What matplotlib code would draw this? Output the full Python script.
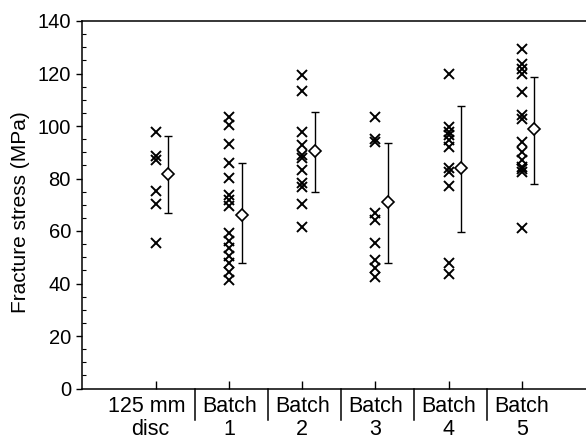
import matplotlib
matplotlib.use("Agg")
import matplotlib.pyplot as plt
from matplotlib.ticker import MultipleLocator
import matplotlib.transforms as mtransforms

plt.rcParams['font.family'] = ['Liberation Sans', 'DejaVu Sans']

# ---- data ----
label_top = ["125 mm", "Batch", "Batch", "Batch", "Batch", "Batch"]
label_bottom = ["disc", "1", "2", "3", "4", "5"]

disc = [97.6, 88.5, 87.0, 75.2, 70.3, 55.3]
batch1 = [103.3, 100.3, 93.0, 85.8, 80.3, 73.7, 71.8, 69.5,
          59.1, 56.3, 53.4, 50.5, 47.7, 44.5, 41.3]
batch2 = [119.4, 113.4, 97.8, 92.7, 88.9, 87.7, 83.2, 78.1, 76.8, 70.3, 61.6]
batch3 = [103.5, 95.0, 94.0, 66.7, 64.2, 55.3, 48.9, 45.8, 42.6]
batch4 = [120.0, 99.7, 97.8, 96.5, 94.6, 92.1, 83.9, 82.6, 77.1, 48.0, 43.5]
batch5 = [129.5, 123.8, 121.9, 120.0, 113.0, 104.2, 102.5, 94.0, 90.2,
          87.0, 84.5, 83.5, 82.6, 61.0]
groups = [disc, batch1, batch2, batch3, batch4, batch5]

means = [81.7, 66.1, 90.6, 71.1, 83.9, 98.7]
err_top = [96.3, 85.8, 105.2, 93.4, 107.6, 118.7]
err_bottom = [66.7, 47.7, 74.9, 47.7, 59.7, 77.9]

# ---- figure ----
fig = plt.figure(figsize=(5.86, 4.41), dpi=100)
ax = fig.add_axes([82/586, 1 - 388.5/441, 504/586, 367.5/441])

mean_offset = 0.17
for i, vals in enumerate(groups):
    ax.plot([i] * len(vals), vals, linestyle='none', marker='x',
            markersize=6.7, markeredgewidth=1.4, color='black', clip_on=False)
    xm = i + mean_offset
    ax.errorbar([xm], [means[i]],
                yerr=[[means[i] - err_bottom[i]], [err_top[i] - means[i]]],
                fmt='none', ecolor='black', elinewidth=1.0, capsize=3.0,
                capthick=1.0, zorder=2)
    ax.plot([xm], [means[i]], linestyle='none', marker='D', markersize=6.3,
            markerfacecolor='white', markeredgecolor='black',
            markeredgewidth=1.2, zorder=3)

ax.set_xlim(-1.012, 5.88)
ax.set_ylim(0, 140)

ax.spines['right'].set_visible(False)
for s in ['left', 'top', 'bottom']:
    ax.spines[s].set_linewidth(1.1)

ax.yaxis.set_major_locator(MultipleLocator(20))
ax.yaxis.set_minor_locator(MultipleLocator(5))
ax.tick_params(axis='y', which='major', direction='out', length=4,
               width=1.0, labelsize=14.5, pad=4)
ax.tick_params(axis='y', which='minor', direction='in', length=3, width=0.8)

ax.set_xticks(range(len(groups)))
ax.tick_params(axis='x', which='major', direction='in', length=6,
               width=1.0, labelbottom=False)

ax.set_ylabel("Fracture stress (MPa)", fontsize=15)
ax.yaxis.set_label_coords(-0.103, 0.48)

# category labels below the axis
trans = mtransforms.blended_transform_factory(ax.transData, ax.transAxes)
label_shift = [-0.12, 0, 0, 0, 0, 0]
for i in range(len(groups)):
    ax.text(i + label_shift[i], -0.0626, label_top[i], transform=trans,
            ha='center', va='baseline', fontsize=15.5)
    ax.text(i + label_shift[i] * 0.6, -0.1265, label_bottom[i], transform=trans,
            ha='center', va='baseline', fontsize=15.5)
for i in range(len(groups) - 1):
    ax.plot([i + 0.53, i + 0.53], [0, -0.0857], transform=trans,
            color='black', linewidth=1.1, clip_on=False)

fig.savefig("out.png", dpi=100)
